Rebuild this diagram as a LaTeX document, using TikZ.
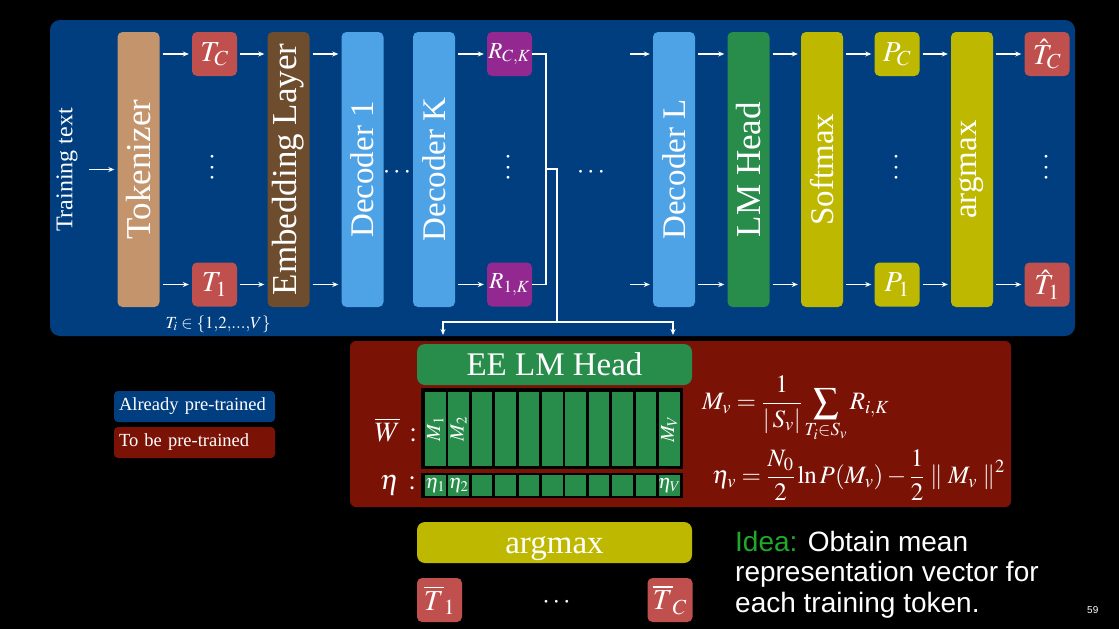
\documentclass[tikz,border=0pt]{standalone}
\usepackage{graphicx}
\usepackage{amsmath}
\usepackage{mathptmx}
\usepackage{fontspec}
\setmainfont{Liberation Serif}
\newfontfamily\sansfont{Liberation Sans}
\usetikzlibrary{arrows.meta}
\definecolor{bgblue}{RGB}{0,62,128}
\definecolor{tokc}{RGB}{196,148,108}
\definecolor{tokred}{RGB}{192,80,77}
\definecolor{embc}{RGB}{109,77,45}
\definecolor{decc}{RGB}{78,163,230}
\definecolor{purp}{RGB}{148,40,145}
\definecolor{grn}{RGB}{40,140,75}
\definecolor{yel}{RGB}{190,185,0}
\definecolor{dred}{RGB}{122,18,6}
\definecolor{ideag}{RGB}{30,170,40}
\newcommand\setfs[1]{\fontsize{#1}{#1}\selectfont}
\newcommand\vdotsx{\rotatebox{90}{$\cdots$}}
\tikzset{
  vbox/.style={rounded corners=5pt, minimum width=42pt, minimum height=275pt, inner sep=0pt, text=white},
  sbox/.style={rounded corners=5pt, minimum width=45pt, minimum height=44pt, inner sep=0pt, text=white, font=\setfs{29}},
  hbar/.style={rounded corners=8pt, minimum width=275pt, minimum height=41pt, inner sep=0pt, text=white, font=\setfs{33}, text height=28pt, text depth=7pt},
  arr/.style={draw=white, line width=1.3pt, -{Stealth[length=6pt,width=5pt]}, shorten <=3pt, shorten >=3pt},
  wline/.style={draw=white, line width=1.3pt},
  dotsn/.style={text=white, font=\setfs{27}, inner sep=0pt},
  legend/.style={rounded corners=4pt, minimum height=31pt, text width=151pt, inner sep=5pt, align=left, text=white, font=\setfs{18.5}},
  cell/.style={fill=grn, inner sep=0pt, minimum width=20.5pt, text=white, font=\setfs{20}},
}
\begin{document}
\begin{tikzpicture}[x=1pt,y=-1pt]
\fill[black] (0,0) rectangle (1119,629);
\useasboundingbox (0,0) rectangle (1119,629);
% panels
\fill[bgblue, rounded corners=10pt] (50,20) rectangle (1075,336);
\fill[dred, rounded corners=6pt] (350,341) rectangle (1011,507);

% top pipeline
\node[text=white, font=\setfs{24}, inner sep=0pt] (tt) at (67,170) {\rotatebox{90}{Training text}};
\coordinate (ttin) at (86,169.5);
\node[vbox, fill=tokc, font=\setfs{35}] (tok) at (138.5,169.5) {\rotatebox{90}{Tokenizer}};
\node[sbox, fill=tokred] (tc) at (214.5,54) {$T_C$};
\node[sbox, fill=tokred] (t1) at (214.5,284.5) {$T_1$};
\node[dotsn] (d1) at (213,166) {\vdotsx};
\node[text=white, font=\setfs{17}, inner sep=0pt] (tset) at (218,324) {$T_i\in\{1{,}2{,}...{,}V\}$};
\node[vbox, fill=embc, font=\setfs{35}] (emb) at (288.5,169.5) {\rotatebox{90}{Embedding Layer}};
\node[vbox, fill=decc, font=\setfs{33}] (dec1) at (362.5,169.5) {\rotatebox{90}{Decoder 1}};
\node[dotsn] (d2) at (398.5,173) {$\cdots$};
\node[vbox, fill=decc, font=\setfs{33}] (deck) at (434,169.5) {\rotatebox{90}{Decoder K}};
\node[sbox, fill=purp, font=\setfs{23}] (rck) at (509.5,54) {$R_{C,K}$};
\node[sbox, fill=purp, font=\setfs{23}] (r1k) at (509.5,284.5) {$R_{1,K}$};
\node[dotsn] (d3) at (509,166) {\vdotsx};
\node[dotsn] (d4) at (592.5,173) {$\cdots$};
\coordinate (lin1) at (627,54);
\coordinate (lin2) at (627,284.5);
\node[vbox, fill=decc, font=\setfs{33}] (decl) at (674,169.5) {\rotatebox{90}{Decoder L}};
\node[vbox, fill=grn, font=\setfs{35}] (lmh) at (748.5,169.5) {\rotatebox{90}{LM Head}};
\node[vbox, fill=yel, font=\setfs{33}] (soft) at (822,169.5) {\rotatebox{90}{Softmax}};
\node[sbox, fill=yel] (pc) at (897,54) {$P_C$};
\node[sbox, fill=yel] (p1) at (897,284.5) {$P_1$};
\node[dotsn] (d5) at (897,166) {\vdotsx};
\node[vbox, fill=yel, font=\setfs{33}] (amax) at (972,169.5) {\rotatebox{90}{argmax}};
\node[sbox, fill=tokred] (thc) at (1047,54) {$\hat{T}_C$};
\node[sbox, fill=tokred] (th1) at (1047,284.5) {$\hat{T}_1$};
\node[dotsn] (d6) at (1047,166) {\vdotsx};

% arrows
\draw[arr] (ttin) -- (tok.west);
\draw[arr] (tok.east |- tc) -- (tc.west);
\draw[arr] (tok.east |- t1) -- (t1.west);
\draw[arr] (tc.east) -- (emb.west |- tc);
\draw[arr] (t1.east) -- (emb.west |- t1);
\draw[arr] (emb.east |- tc) -- (dec1.west |- tc);
\draw[arr] (emb.east |- t1) -- (dec1.west |- t1);
\draw[arr] (deck.east |- rck) -- (rck.west);
\draw[arr] (deck.east |- r1k) -- (r1k.west);
\draw[arr] (lin1) -- (decl.west |- lin1);
\draw[arr] (lin2) -- (decl.west |- lin2);
\draw[arr] (decl.east |- tc) -- (lmh.west |- tc);
\draw[arr] (decl.east |- t1) -- (lmh.west |- t1);
\draw[arr] (lmh.east |- tc) -- (soft.west |- tc);
\draw[arr] (lmh.east |- t1) -- (soft.west |- t1);
\draw[arr] (soft.east |- pc) -- (pc.west);
\draw[arr] (soft.east |- p1) -- (p1.west);
\draw[arr] (pc.east) -- (amax.west |- pc);
\draw[arr] (p1.east) -- (amax.west |- p1);
\draw[arr] (amax.east |- thc) -- (thc.west);
\draw[arr] (amax.east |- th1) -- (th1.west);

% bracket to EE LM head
\coordinate (bmid) at (546,169);
\coordinate (bout) at (557,169);
\coordinate (split) at (557,322);
\coordinate (eel) at (443,335);
\coordinate (eer) at (673,335);
\draw[wline] (rck.east) -| (bmid) |- (r1k.east);
\draw[wline] (bmid) -- (bout) -- (split);
\draw[wline, -{Stealth[length=6pt,width=5pt]}] (split) -| (eel);
\draw[wline, -{Stealth[length=6pt,width=5pt]}] (split) -| (eer);

% EE LM head block
\node[hbar, fill=grn] (eeh) at (554.5,364.5) {EE LM Head};
\fill[black] (421,388) rectangle (683,469);
\fill[black] (421,473) rectangle (683,498);
\foreach \i in {0,...,10}{
  \node[cell, minimum height=74pt] (w\i) at ({435.25+23.4*\i},429) {};
  \node[cell, minimum height=21pt] (e\i) at ({435.25+23.4*\i},485.5) {};
}
\node[text=white, font=\setfs{20}, inner sep=0pt] (m1) at (w0) {\rotatebox{90}{$M_1$}};
\node[text=white, font=\setfs{20}, inner sep=0pt] (m2) at (w1) {\rotatebox{90}{$M_2$}};
\node[text=white, font=\setfs{20}, inner sep=0pt] (mv) at (w10) {\rotatebox{90}{$M_V$}};
\node[text=white, font=\setfs{20}, inner sep=0pt] (h1) at (e0) {$\eta_1$};
\node[text=white, font=\setfs{20}, inner sep=0pt] (h2) at (e1) {$\eta_2$};
\node[text=white, font=\setfs{20}, inner sep=0pt] (hv) at (e10) {$\eta_V$};
\node[text=white, font=\setfs{28}, inner sep=0pt] (wl) at (396,430) {$\overline{W}\,:$};
\node[text=white, font=\setfs{28}, inner sep=0pt] (el) at (398,485) {$\eta\,:$};

% formulas
\node[text=white, font=\setfs{25}, inner sep=0pt, anchor=west] (f1) at (702,409)
  {$\displaystyle M_v=\frac{1}{|\,S_v|}\sum_{T_i\in S_v}R_{i,K}$};
\node[text=white, font=\setfs{25}, inner sep=0pt, anchor=west] (f2) at (712,475)
  {$\displaystyle \eta_v=\frac{N_0}{2}\ln P(M_v)-\frac{1}{2}\;\|\;M_v\;\|^2$};

% legend
\node[legend, fill=bgblue] (lg1) at (194.5,406.5) {Already pre-trained};
\node[legend, fill=dred] (lg2) at (194.5,442.5) {To be pre-trained};

% bottom
\node[hbar, fill=yel] (bam) at (554.5,542.5) {argmax};
\node[sbox, fill=tokred] (tb1) at (439.5,600) {$\overline{T}_1$};
\node[sbox, fill=tokred] (tbc) at (670,600) {$\overline{T}_C$};
\node[dotsn] (d7) at (558,603) {$\cdots$};

\node[anchor=north west, inner sep=0pt, align=left, text=white, font=\sansfont\fontsize{28}{30.5}\selectfont] (idea) at (735,531)
  {\textcolor{ideag}{Idea:} Obtain mean\\representation vector for\\each training token.};
\node[anchor=base west, inner sep=0pt, text=white, font=\sansfont\setfs{10}] (pg) at (1087,613) {59};
\end{tikzpicture}
\end{document}
